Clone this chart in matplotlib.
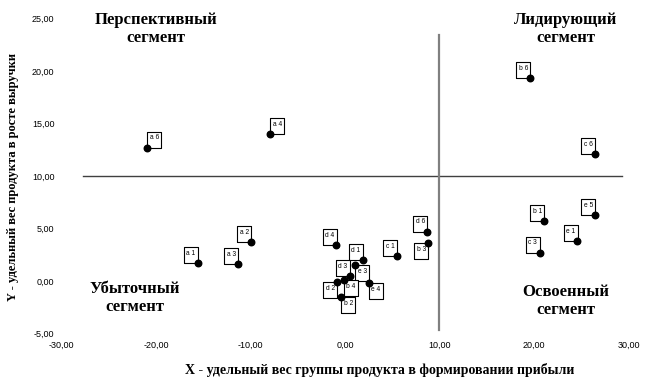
import matplotlib
matplotlib.use("Agg")
import matplotlib.pyplot as plt
from matplotlib.transforms import offset_copy

# product groups: share in profit (X) and share in revenue growth (Y)
labels = ["a 6", "a 4", "b 6", "c 6", "a 1", "a 3", "a 2",
          "d 4", "d 6", "b 3", "c 1", "d 1", "e 3", "d 3",
          "b 4", "d 2", "e 4", "b 2", "b 1", "e 5", "e 1", "c 3"]
x_vals = [-20.9, -7.9, 19.6, 26.5, -15.6, -11.3, -9.9,
          -0.9, 8.7, 8.8, 5.5, 1.9, 1.1, 0.5,
          -0.1, -0.8, 2.5, -0.4, 21.1, 26.5, 24.6, 20.6]
y_vals = [12.7, 14.0, 19.3, 12.1, 1.7, 1.6, 3.7,
          3.4, 4.7, 3.6, 2.4, 2.0, 1.5, 0.5,
          0.1, -0.1, -0.2, -1.5, 5.7, 6.3, 3.8, 2.7]

x_ticks = [-30, -20, -10, 0, 10, 20, 30]
y_ticks = [-5, 0, 5, 10, 15, 20, 25]

segments = ["Перспективный\nсегмент", "Лидирующий\nсегмент",
            "Убыточный\nсегмент", "Освоенный\nсегмент"]
seg_x = [-20.0, 23.4, -22.2, 23.4]
seg_y = [24.0, 24.0, -1.6, -1.9]

# where the label box sits relative to its dot
place = {"a 6": "ur", "a 4": "ur", "e 3": "lr", "b 4": "lr", "e 4": "lr",
         "b 2": "lr", "d 2": "ll", "b 3": "ll"}
offs = {"ul": (-5.0, 5.8), "ur": (5.0, 5.8), "ll": (-5.0, -5.8), "lr": (5.0, -5.8)}
box = [(-0.87, -1), (0.87, -1), (0.87, 1), (-0.87, 1), (-0.87, -1)]

fig = plt.figure(figsize=(6.46, 3.85), dpi=100)
ax = fig.add_axes([0.0952, 0.1338, 0.8777, 0.818])

ax.plot([-27.7, 29.3], [10, 10], color="#404040", lw=1.0, zorder=1)
ax.plot([10, 10], [-4.7, 23.4], color="#808080", lw=1.6, zorder=1)

ax.scatter(x_vals, y_vals, s=22, color="black", zorder=6)

for lab, xv, yv in zip(labels, x_vals, y_vals):
    dx, dy = offs[place.get(lab, "ul")]
    tr = offset_copy(ax.transData, fig=fig, x=dx, y=dy, units="points")
    ax.plot([xv], [yv], marker=box, ms=11.5, mfc="white", mec="black", mew=0.8,
            transform=tr, zorder=4)
    tr2 = offset_copy(ax.transData, fig=fig, x=dx, y=dy + 1.2, units="points")
    ax.text(xv, yv, lab, transform=tr2, ha="center", va="center", fontsize=4.8,
            family="Liberation Sans", zorder=5)

for txt, sx, sy in zip(segments, seg_x, seg_y):
    ax.text(sx, sy, txt, ha="center", va="center", fontsize=12, fontweight="bold",
            family="Liberation Serif", linespacing=1.15)

ax.set_xlim(-30, 30)
ax.set_ylim(-5, 25)
ax.set_xticks(x_ticks)
ax.set_yticks(y_ticks)
ax.set_xticklabels([f"{t:.2f}".replace(".", ",") for t in x_ticks],
                   fontsize=6.5, family="Liberation Sans")
ax.set_yticklabels([f"{t:.2f}".replace(".", ",") for t in y_ticks],
                   fontsize=6.5, family="Liberation Sans")
ax.tick_params(length=0, pad=5)
for sp in ax.spines.values():
    sp.set_visible(False)

fig.text(380 / 646, 1 - 370 / 385, "X - удельный вес группы продукта в формировании прибыли",
         ha="center", va="center", fontsize=10, fontweight="bold", family="Liberation Serif")
fig.text(13 / 646, 1 - 177 / 385, "Y - удельный вес продукта в росте выручки",
         ha="center", va="center", rotation=90, fontsize=9, fontweight="bold",
         family="Liberation Serif")

fig.savefig("out.png", dpi=100)
